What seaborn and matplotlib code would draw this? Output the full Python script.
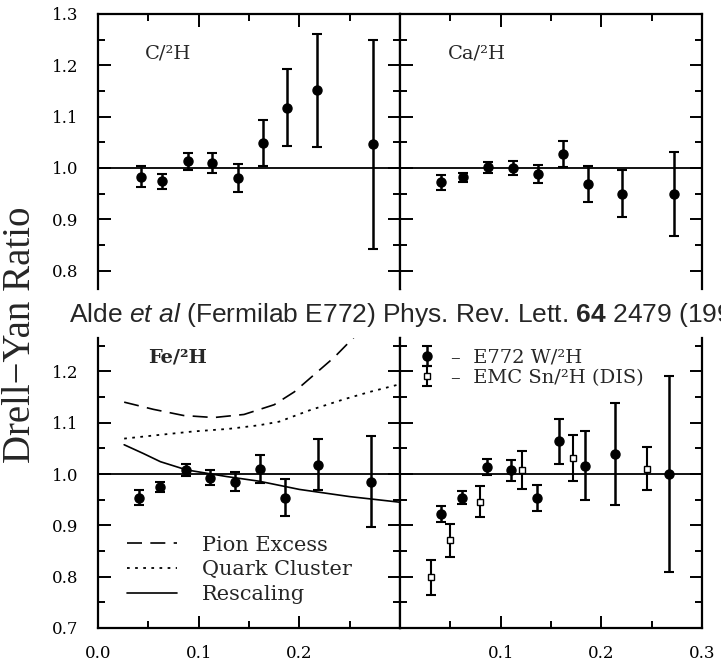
import matplotlib
matplotlib.use("Agg")
import matplotlib.pyplot as plt
import seaborn as sns
from matplotlib.ticker import MultipleLocator

# C/2H
c_x = [0.043, 0.064, 0.089, 0.113, 0.139, 0.164, 0.188, 0.218, 0.273]
c_y = [0.983, 0.974, 1.013, 1.010, 0.981, 1.049, 1.117, 1.151, 1.046]
c_err = [0.020, 0.014, 0.016, 0.020, 0.027, 0.045, 0.075, 0.110, 0.203]

# Ca/2H
ca_x = [0.041, 0.063, 0.087, 0.112, 0.137, 0.162, 0.187, 0.221, 0.272]
ca_y = [0.972, 0.982, 1.001, 1.000, 0.988, 1.027, 0.968, 0.950, 0.950]
ca_err = [0.014, 0.009, 0.011, 0.013, 0.018, 0.026, 0.035, 0.046, 0.082]

# Fe/2H
fe_x = [0.041, 0.062, 0.087, 0.111, 0.136, 0.161, 0.186, 0.219, 0.271]
fe_y = [0.954, 0.975, 1.008, 0.993, 0.985, 1.010, 0.954, 1.018, 0.985]
fe_err = [0.014, 0.010, 0.012, 0.014, 0.018, 0.028, 0.036, 0.050, 0.089]

# model curves for Fe
pion_x = [0.026, 0.055, 0.085, 0.115, 0.145, 0.175, 0.195, 0.215, 0.235, 0.255]
pion_y = [1.140, 1.126, 1.114, 1.110, 1.116, 1.135, 1.160, 1.194, 1.228, 1.268]
quark_x = [0.026, 0.06, 0.095, 0.13, 0.16, 0.18, 0.21, 0.245, 0.27, 0.30]
quark_y = [1.069, 1.076, 1.083, 1.088, 1.095, 1.102, 1.124, 1.146, 1.160, 1.175]
resc_x = [0.026, 0.045, 0.062, 0.088, 0.128, 0.16, 0.2, 0.25, 0.3]
resc_y = [1.057, 1.040, 1.024, 1.008, 0.995, 0.986, 0.970, 0.956, 0.945]

# W/2H (E772) and Sn/2H (EMC, DIS)
w_x = [0.041, 0.062, 0.086, 0.110, 0.136, 0.158, 0.184, 0.214, 0.267]
w_y = [0.922, 0.954, 1.014, 1.007, 0.953, 1.064, 1.016, 1.039, 1.000]
w_err = [0.015, 0.012, 0.016, 0.020, 0.026, 0.044, 0.067, 0.099, 0.190]
sn_x = [0.031, 0.050, 0.079, 0.121, 0.172, 0.245]
sn_y = [0.799, 0.871, 0.946, 1.008, 1.031, 1.010]
sn_err = [0.034, 0.032, 0.030, 0.037, 0.045, 0.042]

sns.set_theme(style="ticks")
plt.rcParams["font.family"] = ["DejaVu Serif"]
plt.rcParams["mathtext.fontset"] = "custom"
plt.rcParams["mathtext.rm"] = "Liberation Sans"
plt.rcParams["mathtext.it"] = "Liberation Sans:italic"
plt.rcParams["mathtext.bf"] = "Liberation Sans:bold"

fig = plt.figure(figsize=(7.21, 6.63), dpi=100)
x0, xm, x1 = 98 / 721, 400 / 721, 702 / 721
w = xm - x0
top_b, top_h = 0.5647, 0.4142
bot_b, bot_h = 0.0528, 0.4374

ax_c = fig.add_axes([x0, top_b, w, top_h])
ax_ca = fig.add_axes([xm, top_b, x1 - xm, top_h])
ax_fe = fig.add_axes([x0, bot_b, w, bot_h])
ax_w = fig.add_axes([xm, bot_b, x1 - xm, bot_h])

ebkw = dict(fmt="o", color="black", ms=6.5, elinewidth=1.8, capsize=3.5, capthick=1.5)

ax_c.errorbar(c_x, c_y, yerr=c_err, **ebkw)
ax_ca.errorbar(ca_x, ca_y, yerr=ca_err, **ebkw)
ax_fe.errorbar(fe_x, fe_y, yerr=fe_err, **ebkw)

sns.lineplot(x=pion_x, y=pion_y, ax=ax_fe, color="black", lw=1.2, label="Pion Excess")
ax_fe.lines[-1].set_linestyle((0, (9, 5)))
sns.lineplot(x=quark_x, y=quark_y, ax=ax_fe, color="black", lw=1.3, label="Quark Cluster")
ax_fe.lines[-1].set_linestyle((0, (1.5, 3)))
sns.lineplot(x=resc_x, y=resc_y, ax=ax_fe, color="black", lw=1.2, label="Rescaling")

h_w = ax_w.errorbar(w_x, w_y, yerr=w_err, **ebkw)
h_sn = ax_w.errorbar(sn_x, sn_y, yerr=sn_err, fmt="s", color="black", mfc="white",
                     ms=5, elinewidth=1.5, capsize=3.5, capthick=1.5)

for ax in (ax_c, ax_ca, ax_fe, ax_w):
    ax.axhline(1.0, color="black", lw=1.3, zorder=0)
    ax.set_xlim(0, 0.3)
    ax.xaxis.set_major_locator(MultipleLocator(0.1))
    ax.xaxis.set_minor_locator(MultipleLocator(0.05))
    ax.yaxis.set_major_locator(MultipleLocator(0.1))
    ax.yaxis.set_minor_locator(MultipleLocator(0.05))
    for s in ax.spines.values():
        s.set_linewidth(1.6)
        s.set_color("black")
    ax.tick_params(which="both", direction="in", left=True, right=True,
                   width=1.4, colors="black", labelsize=12)
    ax.tick_params(which="major", length=9)
    ax.tick_params(which="minor", length=5)
    ax.tick_params(axis="y", pad=14)
    ax.tick_params(axis="x", pad=12)

for ax in (ax_c, ax_ca):
    ax.set_ylim(0.765, 1.3)
    ax.spines["bottom"].set_visible(False)
    ax.tick_params(axis="x", which="both", top=True, bottom=False, labelbottom=False)

for ax in (ax_fe, ax_w):
    ax.set_ylim(0.7, 1.265)
    ax.spines["top"].set_visible(False)
    ax.tick_params(axis="x", which="both", top=False, bottom=True)

for ax in (ax_ca, ax_w):
    ax.tick_params(axis="y", labelleft=False)

ax_c.yaxis.set_major_formatter(lambda v, p: f"{v:.1f}")
ax_fe.yaxis.set_major_formatter(lambda v, p: f"{v:.1f}")
ax_fe.set_xticks([0.0, 0.1, 0.2])
ax_fe.set_xticklabels(["0.0", "0.1", "0.2"])
ax_w.set_xticks([0.1, 0.2, 0.3])
ax_w.set_xticklabels(["0.1", "0.2", "0.3"])

ax_c.text(0.047, 1.214, "C/²H", fontsize=14, va="baseline")
ax_ca.text(0.048, 1.214, "Ca/²H", fontsize=14, va="baseline")
ax_fe.text(0.05, 1.217, "Fe/²H", fontsize=14, va="baseline", fontweight="bold")

ax_fe.legend(loc="lower left", bbox_to_anchor=(0.096, 0.083), frameon=False,
             fontsize=15, handlelength=2.4, handletextpad=1.2, labelspacing=0.27,
             borderpad=0, borderaxespad=0)
ax_w.legend([h_w, h_sn], ["–  E772 W/²H", "–  EMC Sn/²H (DIS)"], loc="upper left",
            bbox_to_anchor=(0.056, 0.963), frameon=False, fontsize=14,
            handlelength=1.0, handletextpad=0.75, labelspacing=0.1,
            borderpad=0, borderaxespad=0)

fig.text(0.029, 0.4947, "Drell−Yan Ratio", rotation=90, fontsize=28,
         family="Liberation Serif", ha="center", va="center")
fig.text(69 / 721, 1 - 322 / 663,
         r"Alde $\mathit{et\ al}$ (Fermilab E772) Phys. Rev. Lett. $\mathbf{64}$ 2479 (1990)",
         fontsize=19, family="Liberation Sans", va="baseline", ha="left")

fig.savefig("out.png", dpi=100)
